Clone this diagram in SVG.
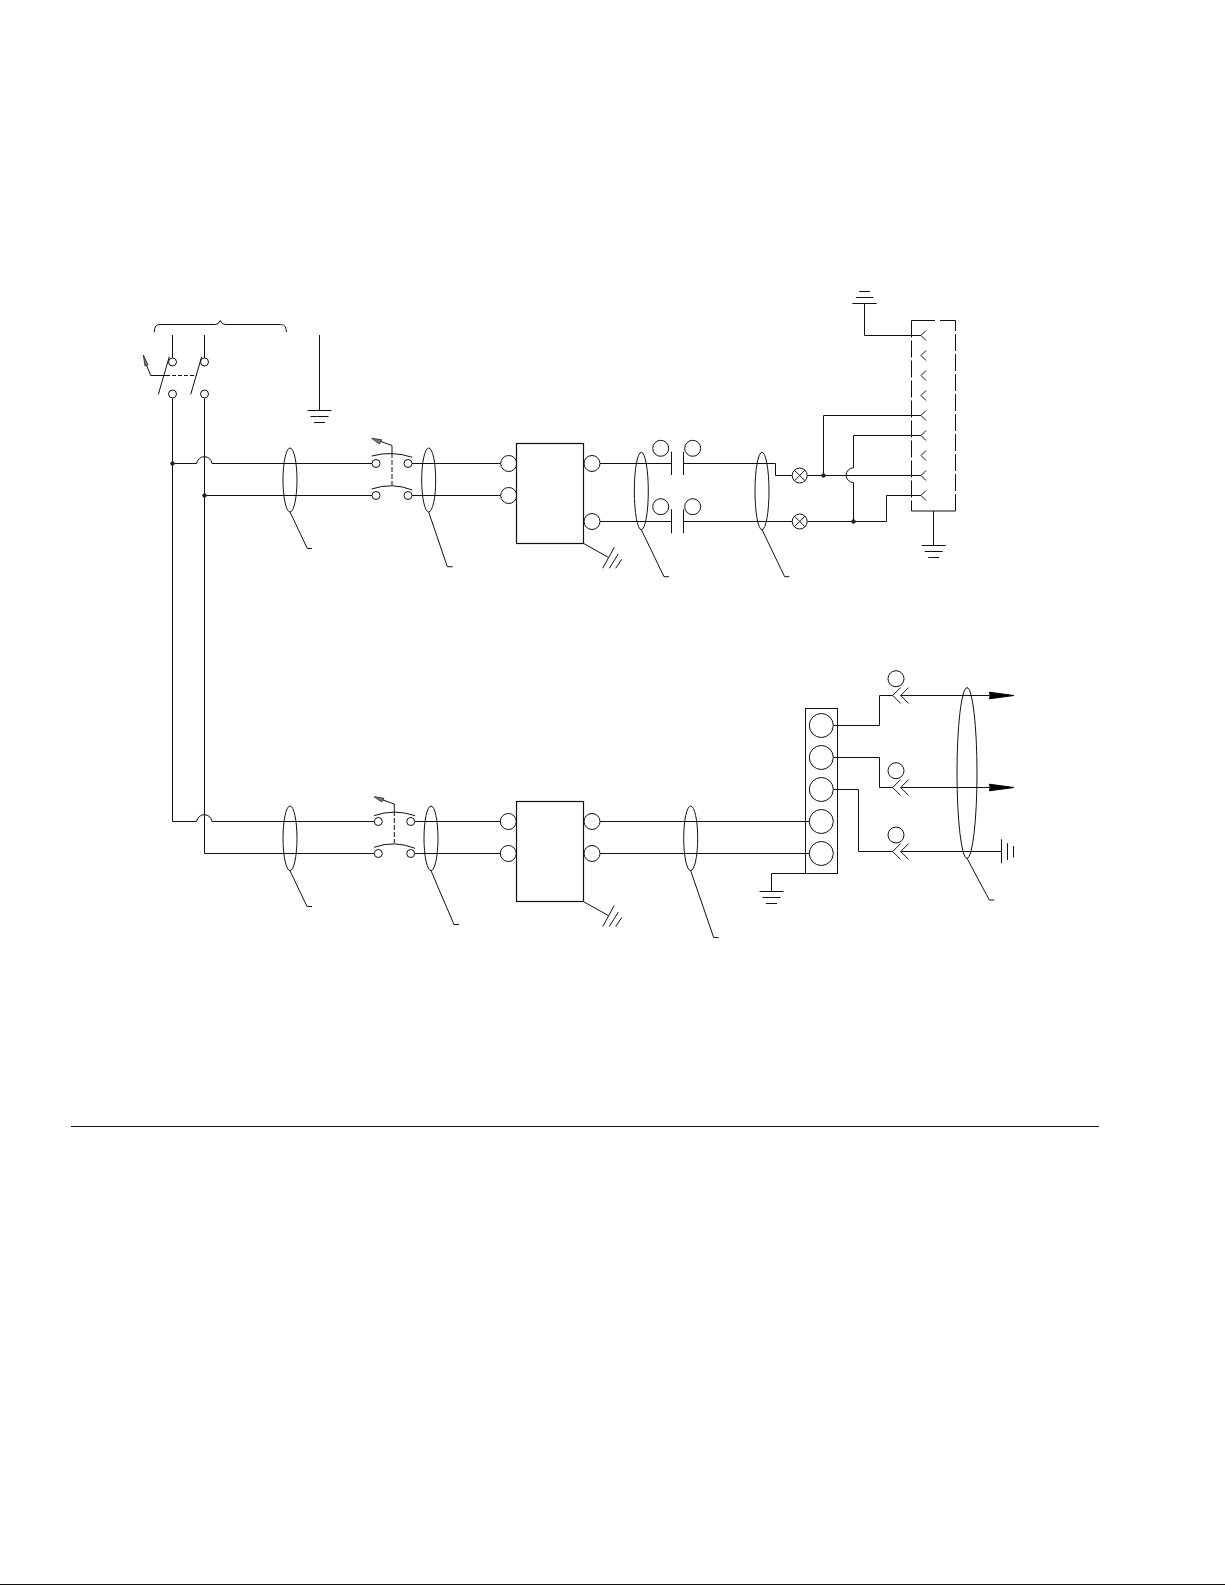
<svg xmlns="http://www.w3.org/2000/svg" width="1225" height="1585" viewBox="0 0 1225 1585">
<style>
*{fill:none;stroke:#111;stroke-width:1}
.w{stroke-width:1.2}
.d{fill:#222;stroke:#222}
.a{fill:#000;stroke:#000}
.t{stroke-width:.8;fill:#777;stroke:#222}
</style>
<defs>
<g id="gnd"><path d="M-12 0H12M-9 6H9M-5.500 12H5.500"/></g>
<g id="hash"><path d="M0 0L25 14M31 4L19.400 25M35 10.700L26 25M38.400 16L32.400 25"/></g>
<g id="chev"><path d="M5 -5L0 0L5 5"/></g>
<g id="dbl"><path d="M8 -8L0 0L8 8M16 -8L8 0L16 8"/></g>
<g id="xc"><circle r="7.500"/><path d="M-5.300 -5.300L5.300 5.300M-5.300 5.300L5.300 -5.300"/></g>
<path id="arrow" class="a" d="M0 -3.300L24.700 0L0 3.300L1 0Z"/>
</defs>
<rect x="0" y="0" width="1225" height="1585" style="fill:#fff;stroke:none"/>

<g id="connectors">
<path d="M172.500 398V821.500H196.700A7.700 7.700 0 0 1 212 821.500H374"/>
<path d="M204.500 398V853.500H374"/>
<path d="M172.500 335V358M204.500 335V358"/>
<path d="M172.500 463.500H196.700A7.700 7.700 0 0 1 212 463.500H372"/>
<path d="M204.500 495.500H372"/>
<path d="M412 463.500H500.500M412 495.500H500.500"/>
<path d="M415 821.500H500.500M415 853.500H500.500"/>
<path d="M600 463.500H671.500M600 521.500H671.500"/>
<path d="M683.500 463.500H775.500V475.500H792"/>
<path d="M683.500 521.500H792"/>
<path d="M807.500 475.500H921"/>
<path d="M807.500 521.500H886.500V495.500H921"/>
<path d="M823.500 475.500V415.500H921"/>
<path d="M853.500 521.500V482.500A7.300 7.300 0 0 1 853.500 467.800V435.500H921"/>
<path d="M864.500 303V335.500H921"/>
<path d="M933.500 511V545"/>
<path d="M600 821.500H809.300M600 853.500H809.300"/>
<path d="M833.300 725.500H879.500V695.500H892.700M900.700 695.500H990"/>
<path d="M833.300 757.500H879.500V787.500H892.700M900.700 787.500H990"/>
<path d="M833.300 789.500H858.500V851.500H892.700M900.700 851.500H1001"/>
<path d="M805.500 873.500H771.500V891"/>
</g>

<g id="main-breaker">
<path d="M154.300 332C154.300 326 157 324.500 160 324.500H215.500Q218.500 324.500 220.300 320.500Q222 324.500 225 324.500H280.500C283.500 324.500 286.300 326 286.300 332"/>
<circle cx="172.500" cy="362" r="4"/><circle cx="204.500" cy="362" r="4"/>
<circle cx="172.500" cy="394" r="4"/><circle cx="204.500" cy="394" r="4"/>
<path d="M158.300 394.500L169.300 356.700M190.700 394.500L201.700 356.700"/>
<path d="M150.700 375.500H166"/><path d="M166 375.500H196.700" style="stroke-dasharray:4 2"/>
<path d="M150.700 375.500L146 364"/>
<path class="t" d="M143.300 355L148 365L145 366Z"/>
</g>
<g id="ground-main"><path d="M319.500 335V410"/><use href="#gnd" x="319.500" y="410.500"/></g>

<g id="junctions">
<circle class="d" cx="172.500" cy="463.500" r="1.800"/>
<circle class="d" cx="204.500" cy="495.500" r="1.800"/>
<circle class="d" cx="823.500" cy="475.500" r="1.800"/>
<circle class="d" cx="853.500" cy="521.500" r="1.800"/>
</g>

<g id="cable-1"><ellipse cx="290" cy="480" rx="7" ry="32"/><path d="M290 512L307.300 548.500H312"/></g>
<g id="switch-upper">
<circle cx="376" cy="463.500" r="4"/><circle cx="408" cy="463.500" r="4"/>
<circle cx="376" cy="495.500" r="4"/><circle cx="408" cy="495.500" r="4"/>
<path d="M371.700 456Q392 450.500 412.300 457.300M371.700 489Q392 482 412.300 490"/>
<path d="M392 445.500V453"/><path d="M392 453V485" style="stroke-dasharray:5 2"/>
<path d="M392 445.500L381 441.500"/>
<path class="t" d="M371.700 438.300L381.700 439.800L379.500 444Z"/>
</g>
<g id="cable-2"><ellipse cx="428.700" cy="480" rx="7" ry="32"/><path d="M428.700 512L447.300 566.700H452.700"/></g>
<g id="unit-upper">
<circle cx="508.700" cy="463.500" r="8"/><circle cx="508.700" cy="495.500" r="8"/>
<circle cx="592" cy="463.500" r="8"/><circle cx="592" cy="521.500" r="8"/>
<rect class="w" x="516.500" y="443.500" width="67" height="100" style="fill:#fff"/>
<use href="#hash" x="583.300" y="543.300"/>
</g>
<g id="cable-3"><ellipse cx="641.300" cy="491" rx="7" ry="38.700"/><path d="M641.300 529.700L664 576.700H669"/></g>
<g id="capacitors">
<path d="M671.500 451.700V475M683.500 451.700V475M671.500 509.300V533.300M683.500 509.300V533.300"/>
<circle cx="660.700" cy="448.300" r="8"/><circle cx="692.700" cy="448.300" r="8"/>
<circle cx="660.700" cy="506.700" r="8"/><circle cx="692.700" cy="506.700" r="8"/>
</g>
<g id="cable-4"><ellipse cx="762" cy="491" rx="7" ry="38.700"/><path d="M762 529.700L784.700 576.700H789.300"/></g>
<g id="lamps"><use href="#xc" x="799.700" y="475.500"/><use href="#xc" x="799.700" y="521.500"/></g>

<g id="ground-top"><path d="M859.300 291.500H870M856 297.500H873.300M852.300 303.500H876.700"/></g>
<g id="connector-panel">
<path d="M911.500 320.500V511M955.500 511V320.500" style="stroke-dasharray:17 3"/>
<path d="M911.500 320.500H935M940 320.500H955.500"/>
<path d="M911.500 511H955.500"/>
<use href="#chev" x="921" y="335.500"/><use href="#chev" x="921" y="355.500"/><use href="#chev" x="921" y="375.500"/>
<use href="#chev" x="921" y="395.500"/><use href="#chev" x="921" y="415.500"/><use href="#chev" x="921" y="435.500"/>
<use href="#chev" x="921" y="455.500"/><use href="#chev" x="921" y="475.500"/><use href="#chev" x="921" y="495.500"/>
</g>
<g id="ground-panel"><use href="#gnd" x="933.700" y="545.500"/></g>

<g id="cable-5"><ellipse cx="290" cy="838.300" rx="7" ry="32.300"/><path d="M290 870.700L307 906.500H312"/></g>
<g id="switch-lower">
<circle cx="378.300" cy="821.500" r="4"/><circle cx="410.700" cy="821.500" r="4"/>
<circle cx="378.300" cy="853.500" r="4"/><circle cx="410.700" cy="853.500" r="4"/>
<path d="M374 815.700Q394.300 808.500 415 815.700M374 847.300Q394.300 840 415 848.300"/>
<path d="M394.300 804V811"/><path d="M394.300 811V843.300" style="stroke-dasharray:5 2"/>
<path d="M394.300 804L383 800"/>
<path class="t" d="M374 796.700L384 798.300L381.700 802Z"/>
</g>
<g id="cable-6"><ellipse cx="431" cy="838.300" rx="7" ry="32.300"/><path d="M431 870.700L454 924.500H459"/></g>
<g id="unit-lower">
<circle cx="508.300" cy="821.500" r="8"/><circle cx="508.300" cy="853.500" r="8"/>
<circle cx="592" cy="821.500" r="8"/><circle cx="592" cy="853.500" r="8"/>
<rect class="w" x="516.500" y="801.500" width="67" height="100" style="fill:#fff"/>
<use href="#hash" x="583.300" y="901.500"/>
</g>
<g id="cable-7"><ellipse cx="690.700" cy="838.300" rx="7" ry="32.300"/><path d="M690.700 870.700L713.700 937.500H718.700"/></g>

<g id="terminal-block">
<rect x="805.500" y="708.500" width="32" height="165"/>
<circle cx="821.300" cy="725.500" r="12"/><circle cx="821.300" cy="757.500" r="12"/><circle cx="821.300" cy="789.500" r="12"/>
<circle cx="821.300" cy="821.500" r="12"/><circle cx="821.300" cy="853.500" r="12"/>
</g>
<g id="ground-block"><use href="#gnd" x="771.500" y="891.500"/></g>
<g id="output-1"><use href="#dbl" x="892.700" y="695.500"/><circle cx="896" cy="678.700" r="8"/><use href="#arrow" x="989.300" y="695.500"/></g>
<g id="output-2"><use href="#dbl" x="892.700" y="787.500"/><circle cx="896" cy="770.700" r="8"/><use href="#arrow" x="989.300" y="787.500"/></g>
<g id="output-3"><use href="#dbl" x="892.700" y="851.500"/><circle cx="896" cy="835" r="8"/>
<path d="M1001.500 839.300V863.300M1007.500 843.300V860M1013.500 846V857.300"/></g>
<g id="cable-8"><ellipse cx="967" cy="773" rx="10" ry="85.300"/><path d="M967 858.300L989.300 900H994.300"/></g>

<g id="rules">
<path class="w" d="M71 1126.500H1099"/>
<path class="w" d="M0 1584.500H1225"/>
</g>
</svg>
